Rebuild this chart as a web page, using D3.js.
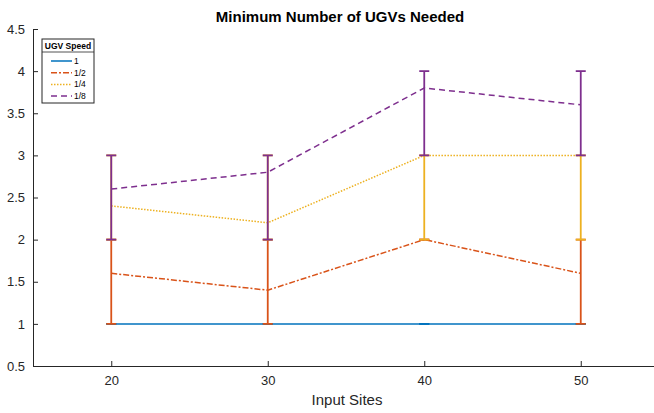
<!DOCTYPE html>
<html>
<head>
<meta charset="utf-8">
<script src="https://cdn.jsdelivr.net/npm/d3@7"></script>
<style>
  body { margin: 0; background: #fff; }
  svg { font-family: "Liberation Sans", Arial, sans-serif; }
</style>
</head>
<body>
<svg id="chart" width="654" height="413"></svg>
<script>
// data
var sites = [20, 30, 40, 50];
var speeds = ["1", "1/2", "1/4", "1/8"];
var colors = ["#0072BD", "#D95319", "#EDB120", "#7E2F8E"];
var dashes = [null, "6,2,2,2", "1.5,1.5", "6,4"];
var meanUGV = [
  [1, 1, 1, 1],
  [1.6, 1.4, 2, 1.6],
  [2.4, 2.2, 3, 3],
  [2.6, 2.8, 3.8, 3.6]
];
var minUGV = [
  [1, 1, 1, 1],
  [1, 1, 2, 1],
  [2, 2, 2, 2],
  [2, 2, 3, 3]
];
var maxUGV = [
  [1, 1, 1, 1],
  [2, 2, 2, 2],
  [3, 3, 3, 3],
  [3, 3, 4, 4]
];
var yTicks = [0.5, 1, 1.5, 2, 2.5, 3, 3.5, 4, 4.5];

var svg = d3.select("#chart");

var dims = { top: 29, bottom: 366, left: 33, right: 659 };

var xScale = d3.scaleLinear().domain([15, 55]).range([dims.left, dims.right]);
var yScale = d3.scaleLinear().domain([0.5, 4.5]).range([dims.bottom, dims.top]);

var xAxis = d3.axisBottom(xScale).tickValues(sites).tickSize(-5).tickPadding(10).tickSizeOuter(0);
var yAxis = d3.axisLeft(yScale).tickValues(yTicks).tickSize(-5).tickPadding(8).tickSizeOuter(0)
  .tickFormat(d3.format("~g"));

svg.append("g")
  .attr("transform", "translate(0," + dims.bottom + ")")
  .call(xAxis)
  .call((g) => g.selectAll("text").attr("font-size", 13).attr("fill", "#262626"));

svg.append("g")
  .attr("transform", "translate(" + dims.left + ",0)")
  .call(yAxis)
  .call((g) => g.selectAll("text").attr("font-size", 13).attr("fill", "#262626"));

svg.selectAll(".domain, .tick line").attr("stroke", "#262626").attr("stroke-width", 1);

// title and axis label
svg.append("text")
  .text("Minimum Number of UGVs Needed")
  .attr("x", 340)
  .attr("y", 22)
  .attr("text-anchor", "middle")
  .attr("font-size", 15)
  .attr("font-weight", "bold")
  .attr("fill", "#000");

svg.append("text")
  .text("Input Sites")
  .attr("x", 347)
  .attr("y", 405)
  .attr("text-anchor", "middle")
  .attr("font-size", 15)
  .attr("fill", "#262626");

var line = d3.line()
  .x((d, i) => xScale(sites[i]))
  .y((d) => yScale(d));

// each series: line then its error bars
speeds.forEach((s, k) => {
  var g = svg.append("g");
  g.append("path")
    .attr("d", line(meanUGV[k]))
    .attr("fill", "none")
    .attr("stroke", colors[k])
    .attr("stroke-width", 1.5)
    .attr("stroke-dasharray", dashes[k]);

  sites.forEach((x, i) => {
    var px = xScale(x);
    g.append("line")
      .attr("x1", px).attr("x2", px)
      .attr("y1", yScale(minUGV[k][i])).attr("y2", yScale(maxUGV[k][i]))
      .attr("stroke", colors[k]).attr("stroke-width", 1.8);
    [minUGV[k][i], maxUGV[k][i]].forEach((v) => {
      g.append("line")
        .attr("x1", px - 5).attr("x2", px + 5)
        .attr("y1", yScale(v)).attr("y2", yScale(v))
        .attr("stroke", colors[k]).attr("stroke-width", 1.8);
    });
  });
});

// legend
var legend = svg.append("g").attr("transform", "translate(42,39)");
legend.append("rect")
  .attr("width", 52).attr("height", 64)
  .attr("fill", "#fff").attr("stroke", "#262626").attr("stroke-width", 1);
legend.append("line")
  .attr("x1", 0).attr("x2", 52).attr("y1", 13).attr("y2", 13)
  .attr("stroke", "#262626").attr("stroke-width", 0.8);
legend.append("text")
  .text("UGV Speed")
  .attr("x", 26).attr("y", 9.5)
  .attr("text-anchor", "middle")
  .attr("font-size", 8.5).attr("font-weight", "bold");

speeds.forEach((s, k) => {
  var yy = 22 + k * 11.7;
  legend.append("line")
    .attr("x1", 9).attr("x2", 30).attr("y1", yy).attr("y2", yy)
    .attr("stroke", colors[k]).attr("stroke-width", 1.5)
    .attr("stroke-dasharray", dashes[k]);
  legend.append("text")
    .text(s)
    .attr("x", 32).attr("y", yy + 3)
    .attr("font-size", 8.5).attr("fill", "#000");
});
</script>
</body>
</html>
